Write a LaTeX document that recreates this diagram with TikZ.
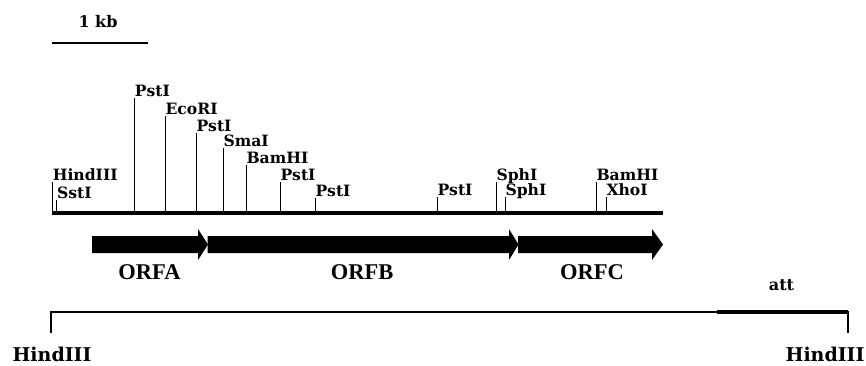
\documentclass[tikz,border=0pt]{standalone}
\usepackage{fontspec}
\setmainfont{DejaVu Serif}
\newfontfamily\orffont{Liberation Serif}
\begin{document}
\begin{tikzpicture}[x=1pt,y=-1pt,
  site/.style={line width=0.9pt},
  lbl/.style={anchor=base west, inner sep=0pt, font=\fontsize{15.6}{17}\selectfont\bfseries},
  orfbox/.style={fill=black, draw=none},
  orflbl/.style={inner sep=0pt, font=\fontsize{22.5}{24}\selectfont\orffont\bfseries},
  biglbl/.style={inner sep=0pt, font=\fontsize{19}{21}\selectfont\bfseries},
  mapline/.style={line width=1.2pt},
  thickline/.style={line width=3.5pt}]
\useasboundingbox (0,0) rectangle (866,365);

% scale bar
\coordinate (sbl) at (52,43);
\coordinate (sbr) at (148,43);
\draw[line width=1.3pt] (sbl) -- (sbr);
\node[inner sep=0pt, font=\fontsize{16}{18}\selectfont\bfseries] (kb) at (98,22) {1 kb};

% main restriction map line
\coordinate (ml) at (51.5,213);
\coordinate (mr) at (663,213);
\draw[thickline] (ml) -- (mr);

% restriction sites
\foreach \x/\t/\n [count=\i] in {52.3/182/HindIII, 56.7/200/SstI, 134.3/98/PstI,
   165/116/EcoRI, 196/133/PstI, 223/148/SmaI, 246/165/BamHI, 280/182/PstI,
   315/198/PstI, 437/197/PstI, 496/182/SphI, 505/197/SphI, 596/182/BamHI, 606/197/XhoI}{
  \coordinate (b\i) at (\x,213);
  \coordinate (t\i) at (\x,\t);
  \draw[site] (b\i) -- (t\i);
  \node[lbl] (l\i) at (\x+0.3,\t-1.5) {\n};
}

% ORF arrows
\fill[orfbox] (92,236) -- (198,236) -- (198,229) -- (208,244.5) -- (198,260) -- (198,253) -- (92,253) -- cycle;
\fill[orfbox] (207.5,236) -- (509,236) -- (509,229) -- (518.5,244.5) -- (509,260) -- (509,253) -- (207.5,253) -- cycle;
\fill[orfbox] (518,236) -- (652,236) -- (652,229) -- (663,244.5) -- (652,260) -- (652,253) -- (518,253) -- cycle;
\node[orflbl] (orfa) at (149.5,272.5) {ORFA};
\node[orflbl] (orfb) at (362,272.5) {ORFB};
\node[orflbl] (orfc) at (592,272.5) {ORFC};

% lower fragment
\coordinate (fl) at (51,333);
\coordinate (fltop) at (51,312);
\coordinate (att) at (717,312);
\coordinate (frtop) at (848,312);
\coordinate (fr) at (848,333);
\draw[mapline] (fl) -- (fltop) -- (frtop) -- (fr);
\draw[thickline] (att) -- (frtop);
\node[inner sep=0pt, font=\fontsize{16}{18}\selectfont\bfseries] (attl) at (781.5,285) {att};
\node[biglbl] (hl) at (52,354) {HindIII};
\node[biglbl] (hr) at (825,354) {HindIII};
\end{tikzpicture}
\end{document}
